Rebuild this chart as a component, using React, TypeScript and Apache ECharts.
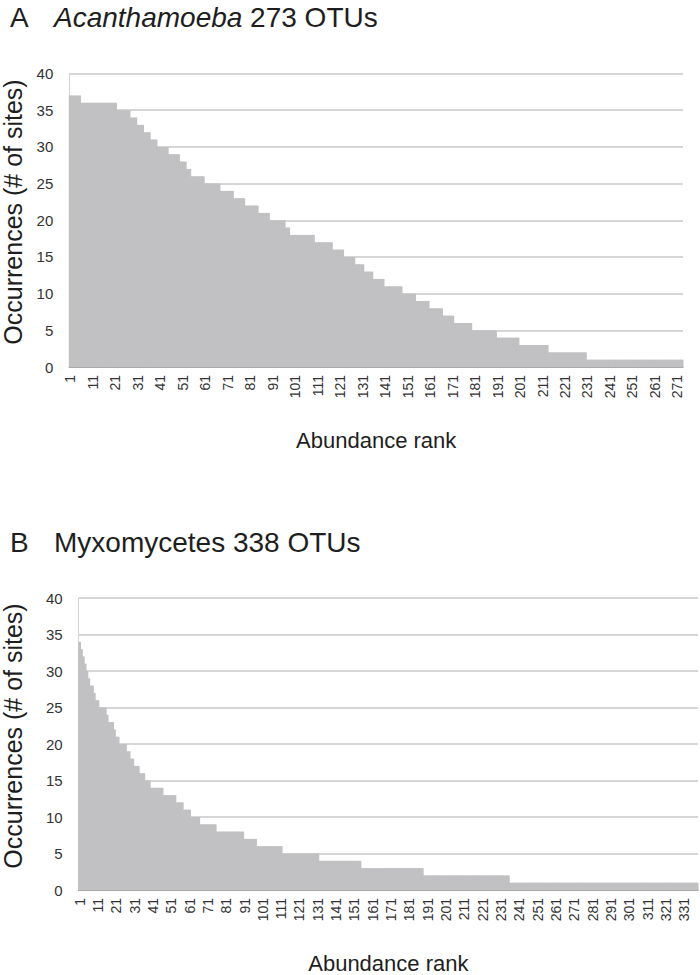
import React, { useEffect, useRef } from "react";
import * as echarts from "echarts";

// Panel A: Acanthamoeba, 273 OTUs — occurrence level and how many consecutive ranks sit at it
const levelsA = [37, 36, 35, 34, 33, 32, 31, 30, 29, 28, 27, 26, 25, 24, 23, 22, 21, 20, 19, 18, 17, 16, 15, 14, 13, 12, 11, 10, 9, 8, 7, 6, 5, 4, 3, 2, 1];
const countsA = [5, 16, 6, 3, 3, 3, 3, 5, 5, 3, 2, 6, 7, 6, 5, 6, 5, 7, 2, 11, 8, 5, 5, 4, 4, 5, 8, 6, 6, 6, 5, 8, 11, 10, 13, 17, 43];

// Panel B: Myxomycetes, 338 OTUs
const levelsB = [34, 33, 32, 31, 30, 29, 28, 27, 26, 25, 24, 23, 22, 21, 20, 19, 18, 17, 16, 15, 14, 13, 12, 11, 10, 9, 8, 7, 6, 5, 4, 3, 2, 1];
const countsB = [1, 1, 1, 1, 1, 1, 2, 1, 2, 4, 1, 3, 1, 2, 4, 2, 2, 3, 3, 3, 7, 7, 4, 4, 5, 9, 15, 7, 14, 20, 23, 34, 47, 103];

const yTicks = { min: 0, max: 40, interval: 5 };
const titleA = { letter: "A", taxon: "Acanthamoeba", rest: "273 OTUs", italic: true };
const titleB = { letter: "B", taxon: "Myxomycetes", rest: "338 OTUs", italic: false };
const xName = "Abundance rank";
const yName = "Occurrences (# of sites)";

function decode(levels: number[], counts: number[]): number[] {
  const out: number[] = [];
  levels.forEach((v, i) => {
    for (let k = 0; k < counts[i]; k++) out.push(v);
  });
  return out;
}

const FONT = "Liberation Sans, Arial, sans-serif";
const TXT = "#1e1e1e";
const BAR = "#c1c1c3";
const GRIDC = "#c8c8c8";

export default function App() {
  const ref = useRef<HTMLDivElement>(null);
  useEffect(() => {
    if (!ref.current) return;
    const chart = echarts.init(ref.current, undefined, { renderer: "svg" });
    const dataA = decode(levelsA, countsA);
    const dataB = decode(levelsB, countsB);
    const catsA = dataA.map((_, i) => String(i + 1));
    const catsB = dataB.map((_, i) => String(i + 1));

    const xAxisBase = (cats: string[], gridIndex: number) => ({
      type: "category" as const,
      gridIndex,
      data: cats,
      boundaryGap: true,
      axisTick: { show: false },
      axisLine: { show: true, lineStyle: { color: "#9a9a9a", width: 1.5 } },
      axisLabel: {
        interval: 9,
        rotate: 90,
        fontSize: 14,
        color: "#333",
        fontFamily: FONT,
        margin: 8,
      },
      name: xName,
      nameLocation: "middle" as const,
      nameGap: 62,
      nameTextStyle: { fontSize: 22, color: TXT, fontFamily: FONT },
    });
    const yAxisBase = (gridIndex: number) => ({
      type: "value" as const,
      gridIndex,
      min: yTicks.min,
      max: yTicks.max,
      interval: yTicks.interval,
      axisLine: { show: true, lineStyle: { color: "#d4d4d4", width: 1 } },
      axisTick: { show: false },
      splitLine: { show: true, lineStyle: { color: GRIDC, width: 1.5 } },
      axisLabel: { fontSize: 15, color: "#333", fontFamily: FONT, margin: 16 },
    });

    const renderStep = (params: any, api: any) => {
      const idx = api.value(0);
      const v = api.value(1);
      const top = api.coord([idx, v]);
      const base = api.coord([idx, 0]);
      const w = api.size([1, 0])[0];
      return {
        type: "rect",
        shape: { x: top[0] - w / 2 - 0.5, y: top[1], width: w + 1, height: base[1] - top[1] },
        style: { fill: BAR },
      };
    };

    const titleEls = (t: typeof titleA, y: number) => [
      { type: "text", left: 10, top: y, style: { text: t.letter, font: `28px ${FONT}`, fill: TXT } },
      {
        type: "text",
        left: 54,
        top: y,
        style: {
          text: `{t|${t.taxon}} ${t.rest}`,
          font: `28px ${FONT}`,
          fill: TXT,
          rich: {
            t: { fontSize: 28, fontStyle: t.italic ? "italic" : "normal", fontFamily: FONT, color: TXT },
          },
        },
      },
    ];
    const yNameEl = (cy: number) => ({
      type: "text",
      x: 13,
      y: cy,
      rotation: Math.PI / 2,
      style: { text: yName, font: `25px ${FONT}`, fill: TXT, align: "center", verticalAlign: "middle" },
    });

    chart.setOption({
      animation: false,
      backgroundColor: "#ffffff",
      grid: [
        { left: 69.3, top: 73.5, width: 613.7, height: 293.5, containLabel: false },
        { left: 78.7, top: 598, width: 619.3, height: 293, containLabel: false },
      ],
      xAxis: [xAxisBase(catsA, 0), xAxisBase(catsB, 1)],
      yAxis: [yAxisBase(0), yAxisBase(1)],
      series: [
        {
          type: "custom",
          xAxisIndex: 0,
          yAxisIndex: 0,
          data: dataA.map((v, i) => [i, v]),
          encode: { x: 0, y: 1 },
          renderItem: renderStep,
          silent: true,
        },
        {
          type: "custom",
          xAxisIndex: 1,
          yAxisIndex: 1,
          data: dataB.map((v, i) => [i, v]),
          encode: { x: 0, y: 1 },
          renderItem: renderStep,
          silent: true,
        },
      ],
      graphic: [...titleEls(titleA, 3), ...titleEls(titleB, 528), yNameEl(212), yNameEl(736)],
    });
    return () => chart.dispose();
  }, []);
  return <div ref={ref} style={{ position: "absolute", left: 0, top: 0, width: 700, height: 975 }} />;
}
